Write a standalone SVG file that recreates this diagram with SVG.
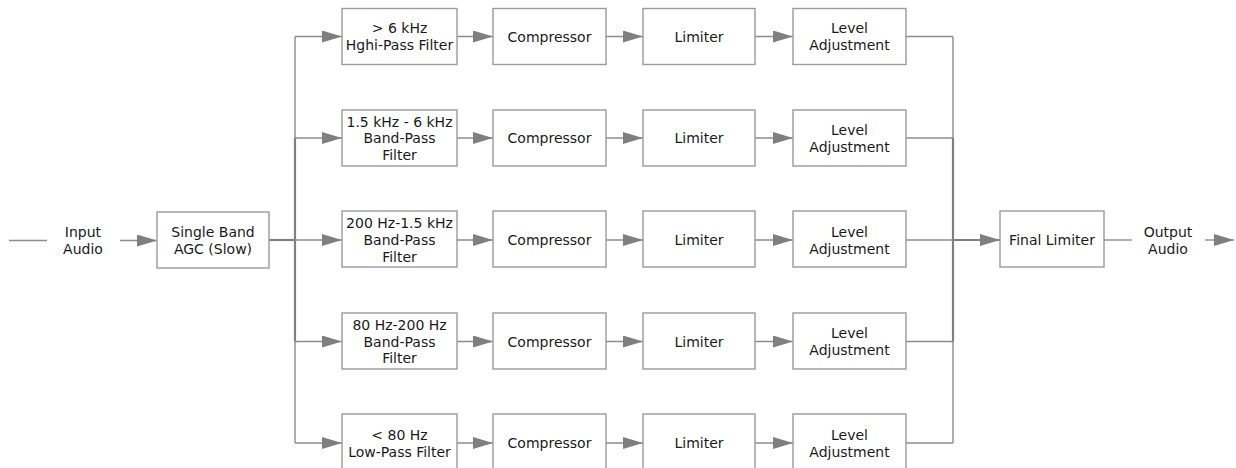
<svg xmlns="http://www.w3.org/2000/svg" width="1236" height="468" viewBox="0 0 1236 468">
<defs>
<marker id="ah" markerUnits="userSpaceOnUse" markerWidth="20" markerHeight="12" refX="20" refY="6" orient="auto">
<path d="M0,0 L20,6 L0,12 z" fill="#7f7f7f"/>
</marker>
<style>
.box{fill:#fff;stroke:#9a9a9a;stroke-width:1.4}
.t{font-family:"DejaVu Sans",Verdana,sans-serif;font-size:14px;fill:#1a1a1a;text-anchor:middle}
.ln{fill:none;stroke:#8c8c8c;stroke-width:1.4}
.th{fill:none;stroke:#808080;stroke-width:2.2}
.ar{fill:none;stroke:#8c8c8c;stroke-width:1.4;marker-end:url(#ah)}
</style>
</defs>
<rect width="1236" height="468" fill="#fff"/>
<g id="connectors">
<line class="ln" x1="9" y1="240.5" x2="47" y2="240.5"/>
<line class="ar" x1="120" y1="240.5" x2="157" y2="240.5"/>
<line class="th" x1="269" y1="240" x2="295" y2="240"/>
<line class="ln" x1="295" y1="36.5" x2="295" y2="443"/>
<line class="th" x1="295" y1="138" x2="295" y2="341.5"/>
<line class="ar" x1="295" y1="36.5" x2="342" y2="36.5"/>
<line class="ar" x1="295" y1="138" x2="342" y2="138"/>
<line class="ar" x1="295" y1="240" x2="342" y2="240"/>
<line class="ar" x1="295" y1="341.5" x2="342" y2="341.5"/>
<line class="ar" x1="295" y1="443" x2="342" y2="443"/>
<line class="ar" x1="457" y1="36.5" x2="493" y2="36.5"/>
<line class="ar" x1="606" y1="36.5" x2="643" y2="36.5"/>
<line class="ar" x1="755" y1="36.5" x2="793" y2="36.5"/>
<line class="ar" x1="457" y1="138" x2="493" y2="138"/>
<line class="ar" x1="606" y1="138" x2="643" y2="138"/>
<line class="ar" x1="755" y1="138" x2="793" y2="138"/>
<line class="ar" x1="457" y1="240" x2="493" y2="240"/>
<line class="ar" x1="606" y1="240" x2="643" y2="240"/>
<line class="ar" x1="755" y1="240" x2="793" y2="240"/>
<line class="ar" x1="457" y1="341.5" x2="493" y2="341.5"/>
<line class="ar" x1="606" y1="341.5" x2="643" y2="341.5"/>
<line class="ar" x1="755" y1="341.5" x2="793" y2="341.5"/>
<line class="ar" x1="457" y1="443" x2="493" y2="443"/>
<line class="ar" x1="606" y1="443" x2="643" y2="443"/>
<line class="ar" x1="755" y1="443" x2="793" y2="443"/>
<line class="ln" x1="906" y1="36.5" x2="953" y2="36.5"/>
<line class="ln" x1="906" y1="138" x2="953" y2="138"/>
<line class="ln" x1="906" y1="240" x2="953" y2="240"/>
<line class="ln" x1="906" y1="341.5" x2="953" y2="341.5"/>
<line class="ln" x1="906" y1="443" x2="953" y2="443"/>
<line class="ln" x1="953" y1="36.5" x2="953" y2="443"/>
<line class="th" x1="953" y1="138" x2="953" y2="341.5"/>
<line class="th" x1="953" y1="240" x2="1000" y2="240" style="marker-end:url(#ah)"/>
<line class="ln" x1="1104" y1="240" x2="1132" y2="240"/>
<line class="ar" x1="1205" y1="240" x2="1234" y2="240"/>
</g>
<g id="input"><text class="t" x="83" y="237">Input</text><text class="t" x="83" y="254">Audio</text></g>
<g id="agc"><rect class="box" x="157" y="212" width="112" height="56"/><text class="t" x="213" y="237">Single Band</text><text class="t" x="213" y="254">AGC (Slow)</text></g>
<g id="f1"><rect class="box" x="342" y="8.5" width="115" height="56"/><text class="t" x="399.5" y="33">&gt; 6 kHz</text><text class="t" x="399.5" y="50">Hghi-Pass Filter</text></g>
<g id="f2"><rect class="box" x="342" y="110" width="115" height="56"/><text class="t" x="399.5" y="126.5">1.5 kHz - 6 kHz</text><text class="t" x="399.5" y="143">Band-Pass</text><text class="t" x="399.5" y="159.5">Filter</text></g>
<g id="f3"><rect class="box" x="342" y="211" width="115" height="56"/><text class="t" x="399.5" y="228">200 Hz-1.5 kHz</text><text class="t" x="399.5" y="245">Band-Pass</text><text class="t" x="399.5" y="261.5">Filter</text></g>
<g id="f4"><rect class="box" x="342" y="313" width="115" height="56"/><text class="t" x="399.5" y="330">80 Hz-200 Hz</text><text class="t" x="399.5" y="346.5">Band-Pass</text><text class="t" x="399.5" y="363">Filter</text></g>
<g id="f5"><rect class="box" x="342" y="414" width="115" height="56"/><text class="t" x="399.5" y="440">&lt; 80 Hz</text><text class="t" x="399.5" y="457">Low-Pass Filter</text></g>
<g id="c1"><rect class="box" x="493" y="8.5" width="113" height="56"/><text class="t" x="549.5" y="41.5">Compressor</text></g>
<g id="c2"><rect class="box" x="493" y="110" width="113" height="56"/><text class="t" x="549.5" y="143">Compressor</text></g>
<g id="c3"><rect class="box" x="493" y="211" width="113" height="56"/><text class="t" x="549.5" y="245">Compressor</text></g>
<g id="c4"><rect class="box" x="493" y="313" width="113" height="56"/><text class="t" x="549.5" y="346.5">Compressor</text></g>
<g id="c5"><rect class="box" x="493" y="414" width="113" height="56"/><text class="t" x="549.5" y="448">Compressor</text></g>
<g id="l1"><rect class="box" x="643" y="8.5" width="112" height="56"/><text class="t" x="699" y="41.5">Limiter</text></g>
<g id="l2"><rect class="box" x="643" y="110" width="112" height="56"/><text class="t" x="699" y="143">Limiter</text></g>
<g id="l3"><rect class="box" x="643" y="211" width="112" height="56"/><text class="t" x="699" y="245">Limiter</text></g>
<g id="l4"><rect class="box" x="643" y="313" width="112" height="56"/><text class="t" x="699" y="346.5">Limiter</text></g>
<g id="l5"><rect class="box" x="643" y="414" width="112" height="56"/><text class="t" x="699" y="448">Limiter</text></g>
<g id="a1"><rect class="box" x="793" y="8.5" width="113" height="56"/><text class="t" x="849.5" y="33">Level</text><text class="t" x="849.5" y="50">Adjustment</text></g>
<g id="a2"><rect class="box" x="793" y="110" width="113" height="56"/><text class="t" x="849.5" y="134.5">Level</text><text class="t" x="849.5" y="151.5">Adjustment</text></g>
<g id="a3"><rect class="box" x="793" y="211" width="113" height="56"/><text class="t" x="849.5" y="236.5">Level</text><text class="t" x="849.5" y="253.5">Adjustment</text></g>
<g id="a4"><rect class="box" x="793" y="313" width="113" height="56"/><text class="t" x="849.5" y="338">Level</text><text class="t" x="849.5" y="355">Adjustment</text></g>
<g id="a5"><rect class="box" x="793" y="414" width="113" height="56"/><text class="t" x="849.5" y="439.5">Level</text><text class="t" x="849.5" y="456.5">Adjustment</text></g>
<g id="final"><rect class="box" x="1000" y="211" width="104" height="56"/><text class="t" x="1052" y="245">Final Limiter</text></g>
<g id="output"><text class="t" x="1168" y="237">Output</text><text class="t" x="1168" y="254">Audio</text></g>
</svg>
